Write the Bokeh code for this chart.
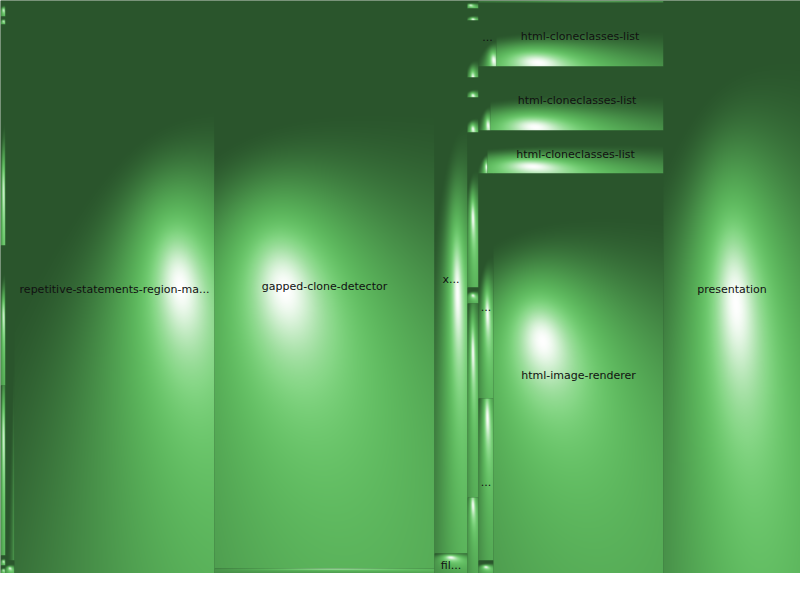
import numpy as np
from bokeh.plotting import figure
from bokeh.models import Range1d, ColumnDataSource
from bokeh.core.properties import value
from bokeh.embed import file_html
from bokeh.resources import INLINE

W, H = 800, 573

# ---------------- data (leaf sizes, area units) ----------------
strip_a = [80, 40, 1105, 700, 850, 50, 40]
strip_a_labels = [""] * 7
strip_b = [5040, 117]
strip_b_labels = ["", ""]
repetitive = [114600]
repetitive_labels = ["repetitive-statements-region-ma..."]
gapped = [124960, 1100]
gapped_labels = ["gapped-clone-detector", ""]
x_col = [18249, 660]
x_col_labels = ["x...", "fil..."]
strip_e = [88, 132, 627, 220, 385, 1705, 176, 2134, 836]
strip_e_labels = [""] * 9
f_row0 = [370]
f_row0_labels = [""]
f_row1 = [1152, 10688]
f_row1_labels = ["...", "html-cloneclasses-list"]
f_row2 = [768, 11072]
f_row2_labels = ["", "html-cloneclasses-list"]
f_row3 = [387, 7568]
f_row3_labels = ["", "html-cloneclasses-list"]
f_row4_strip = [180, 195, 180, 2820, 2430, 195]
f_row4_strip_labels = ["", "", "", "...", "...", ""]
f_row4_main = [68000]
f_row4_main_labels = ["html-image-renderer"]
presentation = [78501]
presentation_labels = ["presentation"]


def leaves(vals, labs):
    return [(v, l) for v, l in zip(vals, labs)]


tree = [
    leaves(strip_a, strip_a_labels),
    leaves(strip_b, strip_b_labels),
    leaves(repetitive, repetitive_labels),
    leaves(gapped, gapped_labels),
    leaves(x_col, x_col_labels),
    leaves(strip_e, strip_e_labels),
    [
        leaves(f_row0, f_row0_labels),
        leaves(f_row1, f_row1_labels),
        leaves(f_row2, f_row2_labels),
        leaves(f_row3, f_row3_labels),
        [leaves(f_row4_strip, f_row4_strip_labels)] + leaves(f_row4_main, f_row4_main_labels),
    ],
    leaves(presentation, presentation_labels),
]

# ---------------- slice-and-dice layout (pixel snapped) ----------------
def total(node):
    if isinstance(node, tuple):
        return node[0]
    return sum(total(c) for c in node)


cells = []  # (x0, y0_top, x1, y1_top, label)


def layout(node, x0, y0, x1, y1, horiz):
    if isinstance(node, tuple):
        cells.append((x0, y0, x1, y1, node[1]))
        return
    s = total(node)
    cum = 0.0
    for c in node:
        a = cum / s
        cum += total(c)
        b = cum / s
        if horiz:
            layout(c, round(x0 + a * (x1 - x0)), y0, round(x0 + b * (x1 - x0)), y1, not horiz)
        else:
            layout(c, x0, round(y0 + a * (y1 - y0)), x1, round(y0 + b * (y1 - y0)), not horiz)


layout(tree, 0, 0, W, H, True)

# ---------------- cushion shading styles (per leaf, in order) ----------------
# (highlight u, highlight v, curvature x, curvature y)
K = 1.3
styles = [
    # strip a
    (0.6, 0.6, K, 2.6), (0.6, 0.6, K, 2.6), (0.6, 0.75, K, 2.6),
    (0.6, 0.5, K, 2.6), (0.6, 0.3, K, 1.6), (0.6, 0.6, K, 2.6), (0.6, 0.6, K, 2.6),
    # strip b
    (1.4, 0.85, K, 2.6), (0.5, 0.6, K, 2.6),
    # repetitive
    (0.83, 0.5, 1.6, 2.6),
    # gapped
    (0.32, 0.51, K, 2.6), (0.5, 0.0, K, 2.6),
    # x / fil
    (0.7, 0.53, K, 2.6), (0.5, 0.2, K, 2.6),
    # strip e
    (0.3, 0.6, K, 2.6), (0.5, 0.9, K, 2.6), (0.5, 1.0, K, 2.6),
    (0.5, 0.9, K, 2.6), (0.5, 0.9, K, 2.6), (0.5, 0.55, K, 2.6),
    (0.5, 0.5, K, 2.6), (0.5, 0.25, K, 2.0), (0.5, 0.1, K, 2.0),
    # F row0
    (0.5, 0.5, K, 2.6),
    # F row1
    (0.85, 0.9, K, 2.6), (0.25, 0.94, K, 1.6),
    # F row2
    (0.8, 0.92, K, 2.6), (0.26, 0.95, K, 1.6),
    # F row3
    (0.9, 0.85, K, 2.6), (0.26, 0.84, K, 1.6),
    # F row4 strip
    (0.9, 1.3, K, 2.6), (0.9, 1.3, K, 2.6), (0.9, 1.3, K, 2.6),
    (0.6, 0.55, K, 2.6), (0.6, 0.12, K, 2.0), (0.5, 0.5, K, 2.6),
    # html-image-renderer
    (0.29, 0.42, K, 2.6),
    # presentation
    (0.53, 0.53, K, 1.9),
]

light = np.array([0.25, 0.65, 0.72])
light = light / np.linalg.norm(light)
dark_rgb = np.array([42, 85, 44], dtype=float)
green_rgb = np.array([102, 204, 102], dtype=float)
d_lo, d_hi, ramp_pow, spec_pow = 0.3, 0.95, 1.6, 30


def cushion(w, h, fu, fv, kx, ky):
    lx, ly, lz = light
    u = (np.arange(w) + 0.5) / w
    v = (np.arange(h) + 0.5) / h
    U, V = np.meshgrid(u, v)
    sx = -lx / lz + 2 * kx * (fu - U)
    sy = -ly / lz + 2 * ky * (fv - V)
    diff = (-sx * lx - sy * ly + lz) / np.sqrt(sx * sx + sy * sy + 1)
    diff = np.clip(diff, 0, 1)
    f = (np.clip((diff - d_lo) / (d_hi - d_lo), 0, 1) ** ramp_pow)[..., None]
    base = dark_rgb + f * (green_rgb - dark_rgb)
    spec = (diff ** spec_pow)[..., None]
    rgb = base + (255 - base) * spec
    img = np.empty((h, w, 4), dtype=np.uint8)
    img[..., :3] = np.clip(rgb, 0, 255).astype(np.uint8)
    img[..., 3] = 255
    img = np.ascontiguousarray(img[::-1])  # bottom row first for bokeh
    return img.view(dtype=np.uint32).reshape((h, w))


images, xs, ys, dws, dhs = [], [], [], [], []
tx, ty, tl = [], [], []
for (x0, y0, x1, y1, lab), st in zip(cells, styles):
    w, h = x1 - x0, y1 - y0
    if w < 1 or h < 1:
        continue
    images.append(cushion(w, h, *st))
    xs.append(x0)
    ys.append(H - y1)
    dws.append(w)
    dhs.append(h)
    if lab:
        tx.append(x0 + w / 2)
        ty.append(H - (y0 + h / 2))
        tl.append(lab)

p = figure(width=W, height=H, x_range=Range1d(0, W), y_range=Range1d(0, H),
           output_backend="svg", toolbar_location=None, min_border=0)
p.axis.visible = False
p.grid.visible = False
p.outline_line_color = None
p.background_fill_color = "#2a552c"
p.border_fill_color = "white"

p.image_rgba(source=ColumnDataSource(dict(image=images, x=xs, y=ys, dw=dws, dh=dhs)),
             image="image", x="x", y="y", dw="dw", dh="dh")
p.text(source=ColumnDataSource(dict(x=tx, y=ty, text=tl)), x="x", y="y", text="text",
       text_align="center", text_baseline="middle", text_font=value("DejaVu Sans"),
       text_font_size="11px", text_color="#111111", y_offset=2)

open("out.html", "w").write(file_html(p, INLINE))
